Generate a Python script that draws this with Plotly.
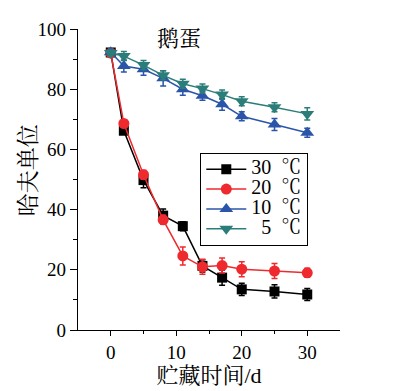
import plotly.graph_objects as go

days = [0, 2, 5, 8, 11, 14, 17, 20, 25, 30]
series_names = ["30\u2002℃", "20\u2002℃", "10\u2002℃", "\u20025\u2002℃"]
hu_30 = [92.2, 66.2, 49.8, 38.0, 34.5, 21.3, 17.4, 13.5, 12.8, 11.8]
err_30 = [1.0, 1.2, 2.5, 2.2, 1.5, 2.0, 2.5, 2.0, 2.2, 2.0]
hu_20 = [92.0, 68.6, 51.6, 36.6, 24.6, 21.0, 21.4, 20.2, 19.6, 19.0]
err_20 = [1.0, 1.2, 1.5, 1.5, 3.0, 2.5, 2.5, 2.5, 2.5, 1.5]
hu_10 = [92.3, 87.7, 86.6, 83.6, 80.0, 77.8, 75.0, 71.0, 68.3, 65.5]
err_10 = [1.0, 2.0, 2.0, 2.5, 2.0, 1.5, 2.0, 1.5, 2.0, 1.5]
hu_5 = [92.0, 91.0, 88.0, 84.6, 81.8, 80.2, 78.2, 76.0, 74.0, 71.8]
err_5 = [1.0, 1.5, 1.5, 1.5, 1.5, 1.5, 1.5, 1.5, 1.5, 2.0]

colors = ["#000000", "#ee2a2f", "#2a55a8", "#2a7d78"]
symbols = ["square", "circle", "triangle-up", "triangle-down"]
sizes = [10, 11, 12, 12]
values = [hu_30, hu_20, hu_10, hu_5]
errors = [err_30, err_20, err_10, err_5]

serif = "Liberation Serif, Noto Serif CJK SC, Noto Sans CJK SC, serif"

fig = go.Figure()
for name, y, e, c, s, sz in zip(series_names, values, errors, colors, symbols, sizes):
    fig.add_trace(go.Scatter(
        x=days, y=y, name='<span style="font-size:20px">' + name + '</span>',
        mode="lines+markers",
        line=dict(color=c, width=1.5),
        marker=dict(symbol=s, size=sz, color=c),
        error_y=dict(type="data", array=e, visible=True, color=c, thickness=1.5, width=3),
    ))

fig.update_layout(
    width=397, height=391,
    margin=dict(l=70, r=65, t=21, b=69),
    paper_bgcolor="white", plot_bgcolor="white",
    font=dict(family=serif, size=17, color="black"),
    showlegend=True,
    legend=dict(
        x=0.466, y=0.588, xanchor="left", yanchor="top",
        bordercolor="black", borderwidth=1.2, bgcolor="white",
        font=dict(size=13, family=serif), itemwidth=40, tracegroupgap=0,
    ),
    annotations=[
        dict(text="鹅蛋", x=0.385, y=1.015, xref="paper", yref="paper",
             xanchor="center", yanchor="top", showarrow=False,
             font=dict(size=22, family=serif)),
        dict(text="哈夫单位", x=-0.191, y=0.531, xref="paper", yref="paper",
             xanchor="center", yanchor="middle", textangle=-90, showarrow=False,
             font=dict(size=23, family=serif)),
    ],
)
fig.update_xaxes(
    range=[-5, 35], tickvals=[0, 10, 20, 30], ticks="outside", ticklen=5,
    tickwidth=1.2, tickcolor="black", showline=True, linecolor="black", linewidth=1.2,
    showgrid=False, zeroline=False, tickfont=dict(size=19), automargin=False,
    minor=dict(tickvals=[5, 15, 25], ticks="outside", ticklen=3, tickcolor="black", tickwidth=1.2),
    title=dict(text="贮藏时间/d", font=dict(size=22), standoff=0),
)
fig.update_yaxes(
    range=[0, 100], tickvals=[0, 20, 40, 60, 80, 100], ticks="outside", ticklen=7,
    tickwidth=1.2, tickcolor="black", showline=True, linecolor="black", linewidth=1.2,
    showgrid=False, zeroline=False, tickfont=dict(size=19), automargin=False,
    minor=dict(tickvals=[10, 30, 50, 70, 90], ticks="outside", ticklen=4, tickcolor="black", tickwidth=1.2),
)
fig.write_html("out.html")
